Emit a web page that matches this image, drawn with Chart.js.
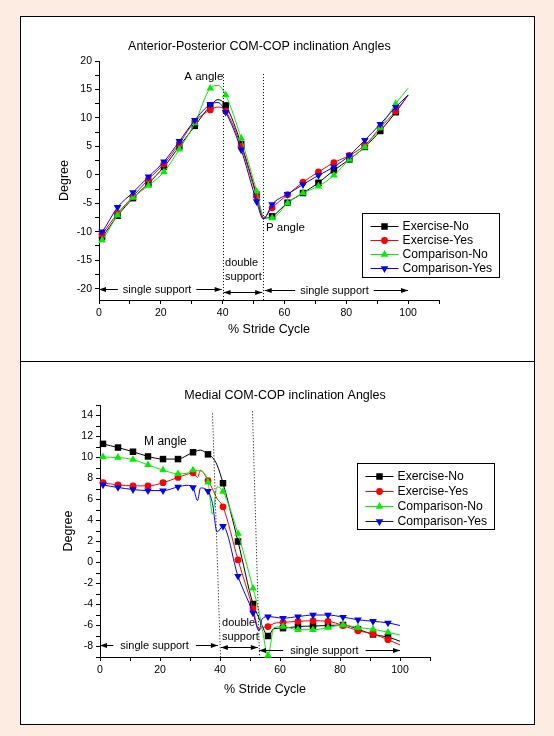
<!DOCTYPE html>
<html>
<head>
<meta charset="utf-8">
<script src="https://cdn.jsdelivr.net/npm/chart.js@4.4.1/dist/chart.umd.min.js"></script>
<style>
  html, body { margin: 0; padding: 0; }
  body { width: 554px; height: 736px; background: #fdece2; position: relative; overflow: hidden; }
  #panel { position: absolute; left: 20px; top: 16px; width: 513px; height: 707px; background: #fff; border: 1px solid #000; }
  #divider { position: absolute; left: 20px; top: 361px; width: 515px; height: 1px; background: #000; }
  canvas { position: absolute; }
  #apChart { left: 22px; top: 18px; }
  #mlChart { left: 22px; top: 362px; }
</style>
</head>
<body>
<div id="panel"></div>
<div id="divider"></div>
<canvas id="apChart" width="511" height="342"></canvas>
<canvas id="mlChart" width="511" height="362"></canvas>
<script>
const seriesNames = ['Exercise-No', 'Exercise-Yes', 'Comparison-No', 'Comparison-Yes'];

// anterior-posterior angles (% stride cycle -> degree)
const apStride = [0, 1, 6, 11, 16, 21, 26, 31, 36, 38.5, 41, 46, 51, 53.2, 56, 61, 66, 71, 76, 81, 86, 91, 96, 100];
const apExerciseNo = [-11.5, -10.9, -7.2, -4.1, -1.5, 1.4, 5.0, 8.6, 12.1, 13.2, 12.2, 5.4, -3.5, -7.6, -7.3, -4.9, -3.2, -1.4, 0.8, 2.7, 4.9, 7.7, 11.0, 14.0];
const apExerciseYes = [-11.0, -10.4, -6.8, -3.8, -0.8, 1.9, 5.5, 9.4, 11.4, 11.9, 11.2, 5.0, -3.8, -7.5, -5.8, -3.5, -1.3, 0.5, 2.15, 3.4, 5.2, 8.3, 11.2, 14.0];
const apComparisonNo = [-12.0, -11.5, -7.1, -4.0, -1.9, 0.5, 4.5, 9.1, 15.2, 15.7, 14.0, 6.4, -2.9, -7.2, -7.6, -5.0, -3.2, -2.0, -0.1, 2.7, 4.9, 8.3, 12.5, 15.2];
const apComparisonYes = [-10.5, -10.0, -5.7, -3.1, -0.35, 2.3, 5.9, 9.6, 12.4, 12.7, 11.0, 4.4, -4.7, -7.8, -5.2, -3.4, -1.7, -0.1, 1.4, 3.4, 6.1, 8.9, 11.9, 14.0];

// medial angles
const mlStride = [0, 1, 6, 11, 16, 21, 26, 29, 31, 32.5, 33.5, 36, 37.5, 39, 41, 46, 51, 53, 54, 56, 58, 61, 66, 71, 76, 81, 86, 91, 96, 100];
const mlExerciseNo = [11.4, 11.3, 10.95, 10.55, 10.1, 9.85, 9.85, 10.2, 10.5, 10.65, 10.7, 10.3, 10.0, 9.3, 7.55, 2.0, -3.95, -5.3, -6.0, -7.0, -6.3, -6.25, -6.1, -6.05, -6.0, -5.95, -6.35, -6.85, -7.1, -7.5];
const mlExerciseYes = [7.7, 7.6, 7.4, 7.3, 7.3, 7.6, 8.1, 8.4, 8.55, 8.1, 8.8, 7.8, 7.0, 6.1, 5.3, 0.25, -4.4, -6.4, -6.2, -6.1, -5.8, -5.7, -5.6, -5.55, -5.6, -6.0, -6.5, -6.8, -7.35, -7.85];
const mlComparisonNo = [10.1, 10.05, 10.0, 9.8, 9.3, 8.8, 8.45, 8.5, 8.8, 8.75, 8.7, 7.65, 4.6, 7.2, 6.75, 2.75, -2.45, -4.7, -6.2, -8.85, -6.2, -6.1, -6.4, -6.4, -6.2, -5.95, -6.2, -6.35, -6.65, -6.9];
const mlComparisonYes = [7.5, 7.4, 7.15, 6.95, 6.85, 6.85, 7.2, 7.35, 7.15, 5.9, 7.1, 6.8, 5.6, 2.9, 3.45, -1.3, -4.8, -6.5, -5.4, -5.15, -5.2, -5.3, -5.15, -5.0, -5.0, -5.2, -5.45, -5.6, -5.75, -6.0];

// tick labels
const strideTickLabels = [0, 20, 40, 60, 80, 100];
const apDegreeTickLabels = [-20, -15, -10, -5, 0, 5, 10, 15, 20];
const mlDegreeTickLabels = [-8, -6, -4, -2, 0, 2, 4, 6, 8, 10, 12, 14];

const FAMILY = '"Liberation Sans", Arial, Helvetica, sans-serif';
const font = (size) => `${size}px ${FAMILY}`;

const seriesStyle = [
    { color: '#000000', pointStyle: 'rect', radius: 4.6, rotation: 0 },
    { color: '#ff0000', pointStyle: 'circle', radius: 3.4, rotation: 0 },
    { color: '#00ee00', pointStyle: 'triangle', radius: 4.4, rotation: 0 },
    { color: '#0000ff', pointStyle: 'triangle', radius: 4.4, rotation: 180 },
];

// symbols sit every 5 % starting at 1 %, the rest only shape the curve
const isMarker = (x) => Number.isInteger(x) && x % 5 === 1;

function buildDatasets(stride, seriesValues) {
    return seriesValues.map((values, i) => {
        const s = seriesStyle[i];
        return {
            label: seriesNames[i],
            data: stride.map((x, k) => ({ x, y: values[k] })),
            borderColor: s.color,
            backgroundColor: s.color,
            borderWidth: 1,
            pointStyle: s.pointStyle,
            pointRotation: s.rotation,
            pointRadius: (c) => (c.parsed && isMarker(c.parsed.x) ? s.radius : 0),
            pointHoverRadius: 0,
            pointBorderWidth: 0,
            cubicInterpolationMode: 'monotone',
            clip: false,
            order: seriesValues.length - i,
        };
    });
}

function tickRange(min, max, step) {
    const out = [];
    for (let v = min; v <= max + 1e-9; v += step) out.push({ value: Math.round(v * 100) / 100 });
    return out;
}

function drawHead(ctx, x, y, dir) {
    ctx.beginPath();
    ctx.moveTo(x, y);
    ctx.lineTo(x - dir * 7, y - 2.5);
    ctx.lineTo(x - dir * 7, y + 2.5);
    ctx.closePath();
    ctx.fill();
}

const notesPlugin = {
    id: 'notes',
    afterDatasetsDraw(chart, args, opts) {
        const { ctx } = chart;
        const px = (v) => chart.scales.x.getPixelForValue(v);
        const py = (v) => chart.scales.y.getPixelForValue(v);
        ctx.save();
        ctx.fillStyle = '#000';
        ctx.strokeStyle = '#000';
        ctx.lineWidth = 1;
        ctx.textBaseline = 'middle';
        ctx.textAlign = 'left';

        ctx.font = font(opts.title.size);
        ctx.fillText(opts.title.text, px(opts.title.x), py(opts.title.y));

        ctx.setLineDash([1, 2]);
        opts.dotted.forEach((d) => {
            ctx.beginPath();
            ctx.moveTo(Math.round(px(d.x1)) + 0.5, py(d.y1));
            ctx.lineTo(Math.round(px(d.x2)) + 0.5, py(d.y2));
            ctx.stroke();
        });
        ctx.setLineDash([]);

        opts.labels.forEach((l) => {
            ctx.font = font(l.size);
            ctx.textAlign = l.align;
            ctx.fillText(l.text, px(l.x), py(l.y));
        });

        ctx.font = font(11);
        ctx.textAlign = 'center';
        opts.arrows.forEach((a) => {
            const y = Math.round(py(a.y)) + 0.5;
            const x1 = px(a.from), x2 = px(a.to);
            ctx.beginPath();
            if (a.text) {
                const tx = px(a.textX);
                const half = ctx.measureText(a.text).width / 2;
                ctx.fillText(a.text, tx, y);
                ctx.moveTo(x1, y);
                ctx.lineTo(tx - half - a.gap, y);
                ctx.moveTo(tx + half + a.gap, y);
                ctx.lineTo(x2, y);
            } else {
                ctx.moveTo(x1, y);
                ctx.lineTo(x2, y);
            }
            ctx.stroke();
            drawHead(ctx, x1, y, -1);
            drawHead(ctx, x2, y, 1);
        });

        // legend box in the Origin style: line with symbol, then name
        const lg = opts.legend;
        const left = Math.round(px(lg.x)) + 0.5;
        const top = Math.round(py(lg.y)) + 0.5;
        ctx.strokeStyle = '#000';
        ctx.strokeRect(left, top, lg.width, lg.height);
        ctx.font = font(12.2);
        ctx.textAlign = 'left';
        chart.data.datasets.forEach((ds, i) => {
            const s = seriesStyle[i];
            const rowY = Math.round(top + lg.firstRow + i * lg.rowGap) + 0.5;
            ctx.strokeStyle = s.color;
            ctx.fillStyle = s.color;
            ctx.beginPath();
            ctx.moveTo(left + 8, rowY);
            ctx.lineTo(left + 36, rowY);
            ctx.stroke();
            Chart.helpers.drawPoint(ctx, { pointStyle: s.pointStyle, rotation: s.rotation, radius: s.radius, borderWidth: 0 }, left + 22, rowY);
            ctx.fillStyle = '#000';
            ctx.fillText(ds.label, left + 40, rowY + 0.5);
        });
        ctx.restore();
    }
};

function makeChart(canvasId, spec) {
    return new Chart(document.getElementById(canvasId), {
        type: 'line',
        data: { datasets: buildDatasets(spec.stride, spec.series) },
        plugins: [notesPlugin],
        options: {
            responsive: false,
            animation: false,
            events: [],
            layout: { padding: spec.padding },
            plugins: {
                legend: { display: false },
                tooltip: { enabled: false },
                title: { display: false },
                notes: spec.notes,
            },
            scales: {
                x: {
                    type: 'linear',
                    min: 0,
                    max: 110,
                    afterBuildTicks: (sc) => { sc.ticks = tickRange(0, 110, 10); },
                    afterFit: (sc) => { sc.height = 44; },
                    ticks: {
                        autoSkip: false,
                        maxRotation: 0,
                        padding: 3,
                        color: '#000',
                        font: { family: FAMILY, size: 10.5 },
                        callback: (v) => (strideTickLabels.includes(v) ? v : ''),
                    },
                    grid: { drawOnChartArea: false, drawTicks: true, tickLength: 4, color: '#000' },
                    border: { display: true, color: '#000', width: 1 },
                    title: { display: true, text: '% Stride Cycle', color: '#000', font: { family: FAMILY, size: 12.5 }, padding: { top: 0, bottom: spec.xTitlePad } },
                },
                y: {
                    type: 'linear',
                    min: spec.yMin,
                    max: spec.yMax,
                    afterBuildTicks: (sc) => { sc.ticks = tickRange(spec.yTickFrom, spec.yMax, spec.yMinor); },
                    afterFit: (sc) => { sc.width = spec.yWidth; },
                    ticks: {
                        autoSkip: false,
                        padding: 3,
                        color: '#000',
                        font: { family: FAMILY, size: 10.5 },
                        callback: (v) => (spec.yLabels.includes(v) ? v : ''),
                    },
                    grid: { drawOnChartArea: false, drawTicks: true, tickLength: 4, color: '#000' },
                    border: { display: true, color: '#000', width: 1 },
                    title: { display: true, text: 'Degree', color: '#000', font: { family: FAMILY, size: 12.5 }, padding: { top: spec.yTitlePad, bottom: 0 } },
                },
            },
        },
    });
}

makeChart('apChart', {
    stride: apStride,
    series: [apExerciseNo, apExerciseYes, apComparisonNo, apComparisonYes],
    padding: { left: 0, top: 43, right: 94, bottom: 16 },
    yMin: -22, yMax: 20, yTickFrom: -20, yMinor: 2.5, yLabels: apDegreeTickLabels,
    yWidth: 77, yTitlePad: 35.5, xTitlePad: 6.5,
    notes: {
        title: { text: 'Anterior-Posterior COM-COP inclination Angles', x: 9.4, y: 22.5, size: 12.5 },
        dotted: [
            { x1: 40, y1: 17.7, x2: 40, y2: -22 },
            { x1: 53.2, y1: 17.7, x2: 53.2, y2: -22 },
        ],
        labels: [
            { text: 'A angle', x: 33.9, y: 17.2, align: 'center', size: 11.5 },
            { text: 'P angle', x: 54.0, y: -9.35, align: 'left', size: 11.5 },
            { text: 'double', x: 40.8, y: -15.5, align: 'left', size: 11 },
            { text: 'support', x: 40.8, y: -17.95, align: 'left', size: 11 },
        ],
        arrows: [
            { from: 0, to: 39.7, y: -20, text: 'single support', textX: 18.8, gap: 5 },
            { from: 40.3, to: 52.8, y: -20.6 },
            { from: 53.6, to: 100, y: -20.2, text: 'single support', textX: 76.2, gap: 5 },
        ],
        legend: { x: 85.2, y: -6.7, width: 137, height: 64, firstRow: 12, rowGap: 14.3 },
    },
});

makeChart('mlChart', {
    stride: mlStride,
    series: [mlExerciseNo, mlExerciseYes, mlComparisonNo, mlComparisonYes],
    padding: { left: 0, top: 43, right: 103, bottom: 23 },
    yMin: -9, yMax: 15, yTickFrom: -9, yMinor: 1, yLabels: mlDegreeTickLabels,
    yWidth: 78, yTitlePad: 39, xTitlePad: 3.5,
    notes: {
        title: { text: 'Medial COM-COP inclination Angles', x: 28.1, y: 15.93, size: 12.5 },
        dotted: [
            { x1: 37.4, y1: 14.2, x2: 40.0, y2: -9 },
            { x1: 50.6, y1: 14.4, x2: 53.1, y2: -9 },
        ],
        labels: [
            { text: 'M angle', x: 21.8, y: 11.5, align: 'center', size: 12 },
            { text: 'double', x: 40.7, y: -5.76, align: 'left', size: 11 },
            { text: 'support', x: 40.7, y: -7.1, align: 'left', size: 11 },
        ],
        arrows: [
            { from: 0, to: 39.3, y: -7.85, text: 'single support', textX: 18.2, gap: 7 },
            { from: 40.3, to: 52.6, y: -8.05 },
            { from: 53.0, to: 100, y: -8.3, text: 'single support', textX: 74.8, gap: 7 },
        ],
        legend: { x: 85.7, y: 9.46, width: 137, height: 66, firstRow: 12, rowGap: 15 },
    },
});
</script>
</body>
</html>
